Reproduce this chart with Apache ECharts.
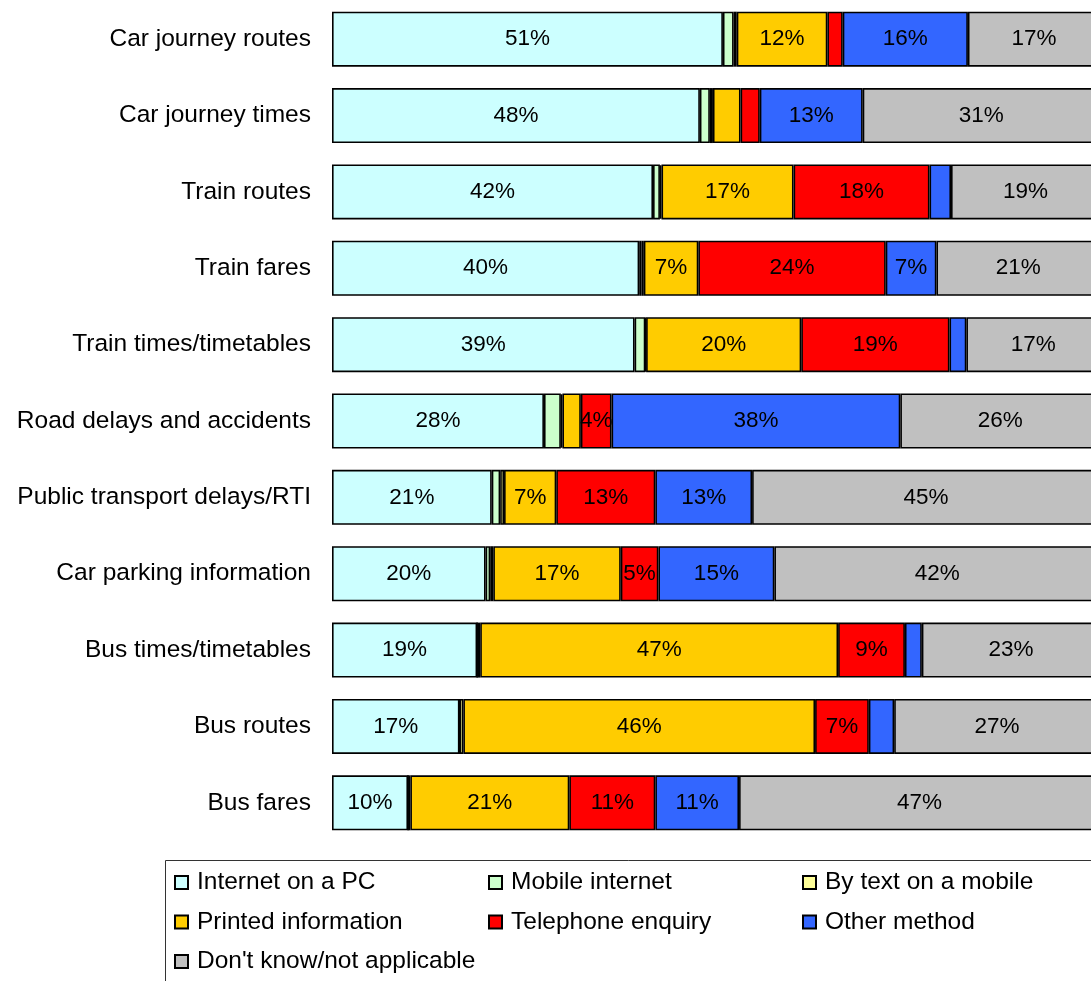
<!DOCTYPE html>
<html>
<head>
<meta charset="utf-8">
<script src="https://cdn.jsdelivr.net/npm/echarts@6/dist/echarts.min.js"></script>
<style>
html,body{margin:0;padding:0;background:#fff;}
#chart{width:1091px;height:981px;}
</style>
</head>
<body>
<div id="chart"></div>
<script>
var categories = ["Car journey routes","Car journey times","Train routes","Train fares","Train times/timetables","Road delays and accidents","Public transport delays/RTI","Car parking information","Bus times/timetables","Bus routes","Bus fares"];
var seriesNames = ["Internet on a PC","Mobile internet","By text on a mobile","Printed information","Telephone enquiry","Other method","Don't know/not applicable"];
var internetPC = [50.9, 47.9, 41.8, 40.0, 39.4, 27.6, 20.8, 20.0, 18.9, 16.6, 9.9];
var mobileInternet = [1.4, 1.3, 0.9, 0.3, 1.4, 2.2, 1.1, 0.6, 0, 0, 0];
var textMobile = [0.4, 0.4, 0.2, 0.3, 0.1, 0.2, 0.5, 0.4, 0.4, 0.5, 0.3];
var printedInfo = [11.8, 3.6, 17.2, 7.1, 20.2, 2.4, 6.8, 16.6, 46.6, 45.8, 20.7];
var telephone = [2.0, 2.5, 17.7, 24.4, 19.3, 4.0, 12.9, 4.9, 8.7, 7.0, 11.2];
var otherMethod = [16.3, 13.4, 2.8, 6.6, 2.2, 37.6, 12.6, 15.1, 2.2, 3.3, 10.9];
var dontKnow = [17.2, 30.9, 19.4, 21.3, 17.4, 26.0, 45.3, 42.4, 23.2, 26.8, 47.0];
var colors = ["#CCFFFF","#CCFFCC","#FFFF99","#FFCC00","#FF0000","#3366FF","#C0C0C0"];
var allData = [internetPC, mobileInternet, textMobile, printedInfo, telephone, otherMethod, dontKnow];

var FONT = "Liberation Sans, Arial, sans-serif";
var chart = echarts.init(document.getElementById('chart'), null, {renderer:'canvas'});

var series = seriesNames.map(function(name, i){
  return {
    name: name,
    type: 'bar',
    stack: 'total',
    barWidth: 55,
    data: allData[i],
    itemStyle: {color: colors[i], borderColor: '#000', borderWidth: 1.6},
    label: {
      show: true,
      position: 'inside',
      color: '#000',
      fontFamily: FONT,
      fontSize: 22.5,
      formatter: function(p){ return p.value >= 3.8 ? Math.round(p.value) + '%' : ''; }
    },
    emphasis: {disabled: true},
    animation: false
  };
});

function legendCol(left, names){
  return {
    orient: 'vertical',
    left: left,
    top: 870,
    padding: 0,
    itemWidth: 13,
    itemHeight: 13,
    itemGap: 14.5,
    icon: 'rect',
    selectedMode: false,
    data: names,
    textStyle: {fontFamily: FONT, fontSize: 24.5, color: '#000', padding: [0,0,0,4]}
  };
}

chart.setOption({
  animation: false,
  textStyle: {fontFamily: FONT},
  grid: {left: 332, width: 768, top: 1, height: 840, containLabel: false, outerBoundsMode: 'none'},
  xAxis: {type: 'value', min: 0, max: 100, show: false},
  yAxis: {
    type: 'category',
    data: categories,
    inverse: true,
    axisLine: {show: false},
    axisTick: {show: false},
    splitLine: {show: false},
    axisLabel: {fontFamily: FONT, fontSize: 24.5, color: '#000', margin: 21}
  },
  legend: [
    legendCol(174, [seriesNames[0], seriesNames[3], seriesNames[6]]),
    legendCol(488, [seriesNames[1], seriesNames[4]]),
    legendCol(802, [seriesNames[2], seriesNames[5]])
  ],
  graphic: [{
    type: 'rect',
    shape: {x: 165.5, y: 860.5, width: 1000, height: 200},
    style: {fill: 'none', stroke: '#333', lineWidth: 1},
    silent: true,
    z: -1
  }],
  series: series
});
</script>
</body>
</html>
